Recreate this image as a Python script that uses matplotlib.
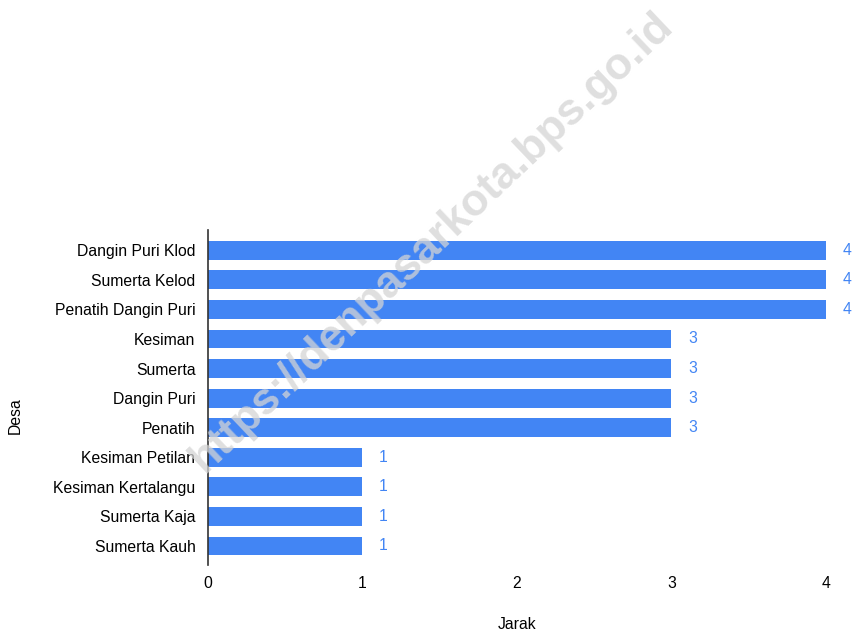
import matplotlib.pyplot as plt

plt.rcParams['font.family'] = ['Liberation Sans', 'DejaVu Sans']

desa = ['Dangin Puri Klod', 'Sumerta Kelod', 'Penatih Dangin Puri', 'Kesiman',
        'Sumerta', 'Dangin Puri', 'Penatih', 'Kesiman Petilan',
        'Kesiman Kertalangu', 'Sumerta Kaja', 'Sumerta Kauh']
jarak = [4, 4, 4, 3, 3, 3, 3, 1, 1, 1, 1]
xticks = [0, 1, 2, 3, 4]

blue = '#4285f4'
fs = 11.3

fig = plt.figure(figsize=(8.57, 6.34), dpi=100)
ax = fig.add_axes([0.2427, 0.109, 0.7211, 0.528])

pos = list(range(len(desa)))
ax.barh(pos, jarak, height=0.64, color=blue)
for p, v in zip(pos, jarak):
    ax.annotate(str(v), (v, p), xytext=(12, 0), textcoords='offset points',
                va='center', ha='left', color=blue, fontsize=fs)

ax.set_xlim(0, 4)
ax.set_ylim(10.64, -0.68)
ax.set_yticks(pos)
ax.set_yticklabels(desa, fontsize=fs)
ax.set_xticks(xticks)
ax.set_xticklabels([str(t) for t in xticks], fontsize=fs)
ax.tick_params(length=0)
ax.tick_params(axis='y', pad=9)
ax.tick_params(axis='x', pad=8)

for s in ['top', 'right', 'bottom']:
    ax.spines[s].set_visible(False)
ax.spines['left'].set_color('#333333')
ax.spines['left'].set_linewidth(1.2)

fig.text(0.603, 0.0142, 'Jarak', ha='center', va='center', fontsize=fs)
fig.text(0.018, 0.345, 'Desa', ha='center', va='center', rotation=90, fontsize=fs)

# watermark
fig.text(0.504, 0.618, 'https://denpasarkota.bps.go.id', ha='center', va='center',
         rotation=43.5, fontsize=32, fontweight='bold', color='#d4d4d4', alpha=0.75,
         zorder=10)

fig.savefig('out.png', dpi=100)
